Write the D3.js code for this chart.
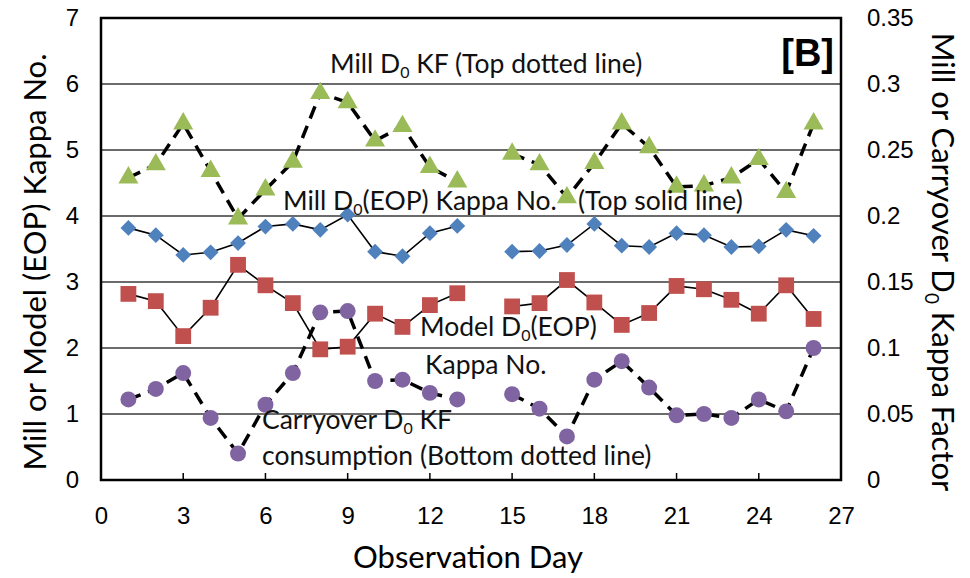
<!DOCTYPE html>
<html>
  <head>
    <meta charset="utf-8" />
    <title>Kappa No. and Kappa Factor</title>
    <script src="https://d3js.org/d3.v7.min.js"></script>
    <style>
      body {
        margin: 0;
        background: #fff;
      }
      svg {
        font-family: Lato, "Open Sans", sans-serif;
        background-color: #fff;
      }
      .grid line {
        stroke: #3a3a3a;
        stroke-width: 1.5;
      }
      .solid {
        fill: none;
        stroke: #000;
        stroke-width: 1.6;
      }
      .dashed {
        fill: none;
        stroke: #000;
        stroke-width: 3.5;
        stroke-dasharray: 13 8;
      }
      .tick-label {
        font-size: 24px;
        fill: #000;
      }
      .note {
        font-size: 26.5px;
        fill: #111;
      }
      .title {
        font-size: 31px;
        fill: #000;
      }
    </style>
  </head>
  <body>
    <div id="chart-container"></div>
    <script>
      // observation days (day 14 has no data)
      const days = [1, 2, 3, 4, 5, 6, 7, 8, 9, 10, 11, 12, 13, 14, 15, 16, 17, 18, 19, 20, 21, 22, 23, 24, 25, 26];

      // left axis: kappa numbers
      const millKappa = [3.82, 3.71, 3.41, 3.45, 3.59, 3.84, 3.88, 3.79, 4.02, 3.46, 3.39, 3.74, 3.85, null,
        3.46, 3.47, 3.56, 3.88, 3.55, 3.53, 3.74, 3.71, 3.53, 3.54, 3.79, 3.70];
      const modelKappa = [2.82, 2.71, 2.18, 2.61, 3.26, 2.95, 2.68, 1.98, 2.02, 2.52, 2.32, 2.65, 2.83, null,
        2.63, 2.68, 3.03, 2.69, 2.35, 2.53, 2.94, 2.89, 2.73, 2.52, 2.95, 2.44];

      // right axis: kappa factors
      const millKF = [0.229, 0.239, 0.27, 0.234, 0.198, 0.22, 0.241, 0.293, 0.286, 0.257, 0.268, 0.237, 0.226, null,
        0.247, 0.239, 0.214, 0.24, 0.27, 0.252, 0.222, 0.223, 0.229, 0.243, 0.218, 0.27];
      const carryKF = [0.061, 0.069, 0.081, 0.047, 0.02, 0.057, 0.081, 0.127, 0.128, 0.075, 0.076, 0.066, 0.061, null,
        0.065, 0.054, 0.033, 0.076, 0.09, 0.07, 0.049, 0.05, 0.047, 0.061, 0.052, 0.1];

      const xTicks = [0, 3, 6, 9, 12, 15, 18, 21, 24, 27];
      const yLeftTicks = [0, 1, 2, 3, 4, 5, 6, 7];
      const yRightTicks = [0, 0.05, 0.1, 0.15, 0.2, 0.25, 0.3, 0.35];

      const width = 970;
      const height = 578;
      const plot = { left: 101, right: 841, top: 18, bottom: 480 };

      const x = d3.scaleLinear().domain([0, 27]).range([plot.left, plot.right]);
      const yL = d3.scaleLinear().domain([0, 7]).range([plot.bottom, plot.top]);
      const yR = d3.scaleLinear().domain([0, 0.35]).range([plot.bottom, plot.top]);

      const svg = d3
        .select("#chart-container")
        .append("svg")
        .attr("width", width)
        .attr("height", height);

      // horizontal gridlines
      svg
        .append("g")
        .attr("class", "grid")
        .selectAll("line")
        .data(yLeftTicks.filter((d) => d > 0 && d < 7))
        .join("line")
        .attr("x1", plot.left)
        .attr("x2", plot.right)
        .attr("y1", (d) => yL(d))
        .attr("y2", (d) => yL(d));

      // axes (labels only, no domain lines)
      const gx = svg
        .append("g")
        .attr("transform", `translate(0,${plot.bottom + 27})`)
        .call(d3.axisBottom(x).tickValues(xTicks).tickSize(0).tickPadding(0));

      const gyl = svg
        .append("g")
        .attr("transform", `translate(${plot.left - 22},0)`)
        .call(d3.axisLeft(yL).tickValues(yLeftTicks).tickFormat(d3.format("d")).tickSize(0).tickPadding(0));

      const gyr = svg
        .append("g")
        .attr("transform", `translate(${plot.right + 26},0)`)
        .call(
          d3
            .axisRight(yR)
            .tickValues(yRightTicks)
            .tickSize(0)
            .tickPadding(0)
            .tickFormat((d) => String(+d.toFixed(2)))
        );

      [gx, gyl, gyr].forEach((g) => {
        g.select(".domain").remove();
        g.selectAll("text")
          .attr("class", "tick-label")
          .attr("font-family", null)
          .attr("font-size", null);
      });
      gx.selectAll("text").attr("dy", "0.71em");

      // inward tick marks on the x axis
      svg
        .append("g")
        .selectAll("line")
        .data(xTicks.filter((d) => d > 0 && d < 27))
        .join("line")
        .attr("x1", (d) => x(d))
        .attr("x2", (d) => x(d))
        .attr("y1", plot.bottom)
        .attr("y2", plot.bottom - 7)
        .attr("stroke", "#000")
        .attr("stroke-width", 1.5);

      // build point lists
      const pts = (vals) => days.map((d, i) => ({ day: d, v: vals[i] }));

      const lineL = d3
        .line()
        .defined((d) => d.v != null)
        .x((d) => x(d.day))
        .y((d) => yL(d.v));
      const lineR = d3
        .line()
        .defined((d) => d.v != null)
        .x((d) => x(d.day))
        .y((d) => yR(d.v));

      svg.append("path").attr("class", "solid").attr("d", lineL(pts(millKappa)));
      svg.append("path").attr("class", "solid").attr("d", lineL(pts(modelKappa)));
      svg.append("path").attr("class", "dashed").attr("d", lineR(pts(millKF)));
      svg.append("path").attr("class", "dashed").attr("d", lineR(pts(carryKF)));

      // markers
      const markers = [
        { vals: millKappa, y: yL, type: d3.symbolDiamond2, size: 160, color: "#4f81bd" },
        { vals: modelKappa, y: yL, type: d3.symbolSquare, size: 250, color: "#c0504d" },
        { vals: millKF, y: yR, type: d3.symbolTriangle, size: 175, color: "#9bbb59" },
        { vals: carryKF, y: yR, type: d3.symbolCircle, size: 200, color: "#8064a2" },
      ];
      markers.forEach((m) => {
        svg
          .append("g")
          .selectAll("path")
          .data(pts(m.vals).filter((d) => d.v != null))
          .join("path")
          .attr("d", d3.symbol().type(m.type).size(m.size))
          .attr("transform", (d) => `translate(${x(d.day)},${m.y(d.v)})`)
          .attr("fill", m.color);
      });

      // plot frame
      svg
        .append("rect")
        .attr("x", plot.left)
        .attr("y", plot.top)
        .attr("width", plot.right - plot.left)
        .attr("height", plot.bottom - plot.top)
        .attr("fill", "none")
        .attr("stroke", "#000")
        .attr("stroke-width", 2.5);

      // annotation helper: text with a subscript 0 after "D"
      function note(xp, yp, before, after) {
        const t = svg.append("text").attr("class", "note").attr("x", xp).attr("y", yp);
        t.append("tspan").text(before);
        if (after != null) {
          t.append("tspan").attr("font-size", "16px").attr("dy", 5).text("0");
          t.append("tspan").attr("dy", -5).text(after);
        }
        return t;
      }

      note(330, 73, "Mill D", " KF (Top dotted line)");
      note(283, 210, "Mill D", "(EOP) Kappa No.");
      note(578, 210, "(Top solid line)");
      note(420, 336, "Model D", "(EOP)");
      note(425, 374, "Kappa No.");
      note(262, 429, "Carryover D", " KF");
      note(262, 465, "consumption (Bottom dotted line)");

      svg
        .append("text")
        .attr("x", 834)
        .attr("y", 66)
        .attr("text-anchor", "end")
        .attr("font-size", "38px")
        .attr("font-weight", "bold")
        .attr("font-family", "Liberation Sans, Arial, sans-serif")
        .text("[B]");

      // axis titles
      svg
        .append("text")
        .attr("class", "title")
        .attr("transform", `translate(46,262) rotate(-90)`)
        .attr("text-anchor", "middle")
        .text("Mill or Model (EOP) Kappa No.");

      const rt = svg
        .append("text")
        .attr("class", "title")
        .attr("transform", `translate(932,262) rotate(90)`)
        .attr("text-anchor", "middle");
      rt.append("tspan").text("Mill or Carryover D");
      rt.append("tspan").attr("font-size", "19px").attr("dy", 7).text("0");
      rt.append("tspan").attr("dy", -7).text(" Kappa Factor");

      svg
        .append("text")
        .attr("class", "title")
        .attr("x", 468)
        .attr("y", 568)
        .attr("text-anchor", "middle")
        .text("Observation Day");
    </script>
  </body>
</html>
